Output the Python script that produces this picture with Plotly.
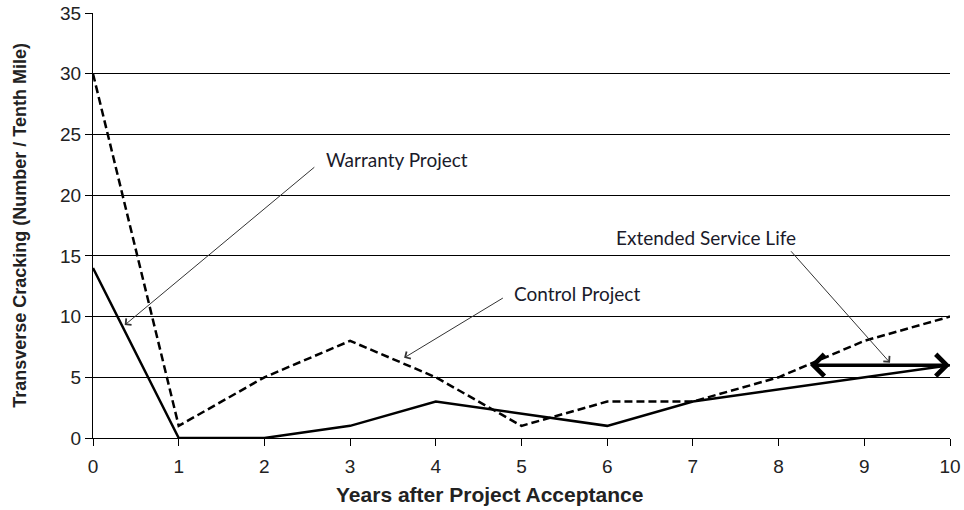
import plotly.graph_objects as go

# Data
years = [0, 1, 2, 3, 4, 5, 6, 7, 8, 9, 10]
warranty = [14, 0, 0, 1, 3, 2, 1, 3, 4, 5, 6]
control = [30, 1, 5, 8, 5, 1, 3, 3, 5, 8, 10]

label_font = dict(family="Lato, Open Sans, sans-serif", size=19, color="#1a1a2a")

fig = go.Figure()

fig.add_trace(go.Scatter(
    x=years, y=warranty, mode="lines", name="Warranty Project",
    line=dict(color="black", width=2.5),
))
fig.add_trace(go.Scatter(
    x=years, y=control, mode="lines", name="Control Project",
    line=dict(color="black", width=2.5, dash="8px,4px"),
))

# Callout labels
fig.add_annotation(x=3.55, y=22.9, text="Warranty Project", showarrow=False,
                   font=label_font)
fig.add_annotation(x=5.65, y=11.9, text="Control Project", showarrow=False,
                   font=label_font)
fig.add_annotation(x=7.15, y=16.5, text="Extended Service Life", showarrow=False,
                   font=label_font)

# Callout arrows
arrow = dict(text="", showarrow=True, axref="x", ayref="y", arrowhead=4,
             arrowsize=1.6, arrowwidth=1, arrowcolor="#333333")
fig.add_annotation(x=0.37, y=9.3, ax=2.6, ay=22.4, **arrow)
fig.add_annotation(x=3.63, y=6.6, ax=4.8, ay=11.6, **arrow)
fig.add_annotation(x=9.3, y=6.2, ax=8.13, ay=15.5, **arrow)

# Extended service life double arrow
fig.add_annotation(x=10, y=6, ax=8.35, ay=6, text="", showarrow=True,
                   axref="x", ayref="y", arrowhead=4, startarrowhead=4,
                   arrowside="end+start", arrowsize=1.2, startarrowsize=1.2,
                   arrowwidth=3.5, arrowcolor="black")

# x axis title sits a little left of centre in the original
fig.add_annotation(x=0.463, y=0, xref="paper", yref="paper", yshift=-56,
                   yanchor="middle", showarrow=False,
                   text="<b>Years after Project Acceptance</b>",
                   font=dict(family="Liberation Sans, Arial, sans-serif",
                             size=21, color="#222222"))

fig.update_layout(
    width=964, height=510,
    margin=dict(l=93, r=14, t=13, b=72),
    plot_bgcolor="white", paper_bgcolor="white",
    showlegend=False,
    font=dict(family="Liberation Sans, Arial, sans-serif", color="#222222"),
)
fig.update_xaxes(
    range=[0, 10], dtick=1, tick0=0, showgrid=False, zeroline=False,
    showline=True, linecolor="black", linewidth=1, automargin=False,
    ticks="outside", ticklen=7, tickcolor="black", ticklabelstandoff=4,
    tickfont=dict(size=19),
)
fig.update_yaxes(
    range=[0, 35], dtick=5, showgrid=True, gridcolor="black", gridwidth=1,
    zeroline=False, showline=True, linecolor="black", linewidth=1,
    automargin=False,
    ticks="outside", ticklen=7, tickcolor="black",
    tickfont=dict(size=19),
    title=dict(text="<b>Transverse Cracking (Number / Tenth Mile)</b>",
               font=dict(size=18, color="#222222"), standoff=28),
)

fig.write_html("out.html", config={"displayModeBar": False},
               post_script="document.body.style.margin='0';")
